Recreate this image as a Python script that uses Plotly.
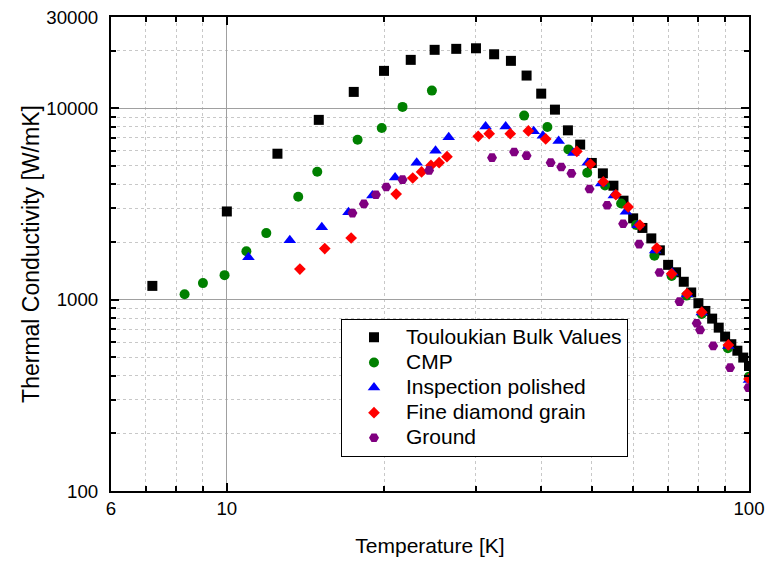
import plotly.graph_objects as go
import math

# ---- data ----
touloukian_T = [7.2, 10, 12.5, 15, 17.5, 20, 22.5, 25, 27.5, 30, 32.5, 35, 37.5, 40, 42.5, 45, 47.5, 50,
                52.5, 55, 57.5, 60, 62.5, 65, 67.5, 70, 72.5, 75, 77.5, 80, 82.5, 85, 87.5, 90, 92.5, 95, 97.5, 100]
touloukian_K = [1180, 2890, 5790, 8700, 12180, 15690, 17910, 20210, 20450, 20590, 19160, 17700, 14830, 11930,
                9840, 7670, 6460, 5180, 4570, 3940, 3290, 2660, 2370, 2090, 1810, 1520, 1390, 1240, 1090, 958,
                873, 796, 714, 641, 585, 541, 498, 450]

cmp_T = [8.3, 9.0, 9.9, 10.9, 11.9, 13.7, 14.9, 17.8, 19.8, 21.7, 24.7, 37.1, 41.1, 45.1, 49.0, 53.0,
         56.9, 60.8, 65.9, 71.1, 75.9, 81.2, 91.1, 100]
cmp_K = [1068, 1220, 1343, 1789, 2227, 3450, 4663, 6856, 7896, 10170, 12370, 9157, 7991, 6099, 4607, 3953,
         3182, 2456, 1695, 1331, 1050, 842, 557, 396]

insp_T = [11.0, 13.2, 15.2, 17.1, 19.0, 21.0, 23.1, 25.1, 26.6, 31.3, 34.2, 38.7, 40.3, 43.2, 46.1, 49.1,
          52.1, 55.1, 58.1, 61.2, 66.1, 71.3, 76.1, 81.2, 91.3, 100]
insp_K = [1664, 2043, 2389, 2862, 3504, 4353, 5196, 6003, 7048, 8021, 8021, 7578, 7194, 6750, 5839, 5196,
          4050, 3504, 2880, 2447, 1806, 1381, 1068, 856, 573, 380]

fine_T = [13.8, 15.4, 17.3, 21.1, 22.7, 23.6, 24.6, 25.5, 26.4, 30.3, 31.8, 34.9, 37.8, 40.8, 46.8, 49.7,
          52.6, 55.6, 58.7, 61.8, 66.6, 71.1, 76.1, 81.2, 91.3, 100]
fine_K = [1444, 1848, 2100, 3564, 4322, 4652, 5030, 5196, 5587, 7133, 7371, 7371, 7614, 6914, 5953, 5115,
          4133, 3533, 3050, 2453, 1859, 1364, 1075, 860, 580, 385]

ground_T = [17.4, 18.3, 19.3, 20.2, 21.7, 24.4, 32.2, 35.5, 37.5, 41.7, 43.7, 45.7, 49.5, 53.5, 57.4, 61.6,
            67.4, 73.6, 79.4, 80.6, 85.4, 92.0, 99.7]
ground_K = [2835, 3163, 3533, 3878, 4235, 4736, 5520, 5911, 5653, 5196, 4933, 4567, 3785, 3113, 2492, 1951,
            1386, 977, 753, 695, 573, 441, 347]

x_tickvals = [6, 10, 100]
x_ticktext = ["6", "10", "100"]
x_minor = [7, 8, 9, 20, 30, 40, 50, 60, 70, 80, 90]
y_tickvals = [100, 1000, 10000, 30000]
y_ticktext = ["100", "1000", "10000", "30000"]
y_minor = [200, 300, 400, 500, 600, 700, 800, 900, 2000, 3000, 4000, 5000, 6000, 7000, 8000, 9000, 20000]

series = [
    ("Touloukian Bulk Values", touloukian_T, touloukian_K, "square", "#000000", 10),
    ("CMP", cmp_T, cmp_K, "circle", "#008000", 10),
    ("Inspection polished", insp_T, insp_K, "triangle-up", "#0000FF", 11),
    ("Fine diamond grain", fine_T, fine_K, "diamond", "#FF0000", 9),
    ("Ground", ground_T, ground_K, "hexagon2", "#800080", 10),
]

fig = go.Figure()
for name, xs, ys, sym, col, sz in series:
    fig.add_trace(go.Scatter(x=xs, y=ys, mode="markers",
                             name="<span style='font-size:21px'>" + name + "</span>",
                             marker=dict(symbol=sym, color=col, size=sz, line=dict(width=0))))

font = "Liberation Sans, Arial, sans-serif"
axis_common = dict(
    showline=True, linecolor="black", linewidth=2, mirror="ticks",
    ticks="inside", ticklen=8, tickwidth=1.5, tickcolor="black",
    showgrid=True, gridcolor="#A0A0A0", gridwidth=1,
    tickfont=dict(family=font, size=18.7, color="black"),
    zeroline=False,
)

fig.update_xaxes(
    type="log", range=[math.log10(6), 2],
    tickmode="array", tickvals=x_tickvals, ticktext=x_ticktext,
    minor=dict(tickmode="array", tickvals=x_minor, ticks="inside", ticklen=5, tickcolor="black",
               showgrid=True, gridcolor="#C8C8C8", griddash="dot", gridwidth=1),
    title=dict(text="Temperature [K]", font=dict(family=font, size=21, color="black"), standoff=20),
    **axis_common,
)
fig.update_yaxes(
    type="log", range=[2, math.log10(30000)],
    tickmode="array", tickvals=y_tickvals, ticktext=y_ticktext,
    minor=dict(tickmode="array", tickvals=y_minor, ticks="inside", ticklen=5, tickcolor="black",
               showgrid=True, gridcolor="#C8C8C8", griddash="dot", gridwidth=1),
    ticklabelstandoff=7,
    title=dict(text="Thermal Conductivity [W/mK]", font=dict(family=font, size=23, color="black"), standoff=0),
    **axis_common,
)

fig.update_layout(
    width=765, height=561,
    margin=dict(l=111, r=16, t=17, b=70, autoexpand=False),
    paper_bgcolor="white", plot_bgcolor="white",
    font=dict(family=font, color="black"),
    legend=dict(x=0.3605, y=0.3633, xanchor="left", yanchor="top",
                bordercolor="black", borderwidth=1, bgcolor="white",
                font=dict(family=font, size=17, color="black"),
                itemwidth=54, tracegroupgap=0),
    showlegend=True,
)

fig.write_html("out.html", config={"displayModeBar": False},
               post_script="document.body.style.margin='0';document.body.style.overflow='hidden';")
